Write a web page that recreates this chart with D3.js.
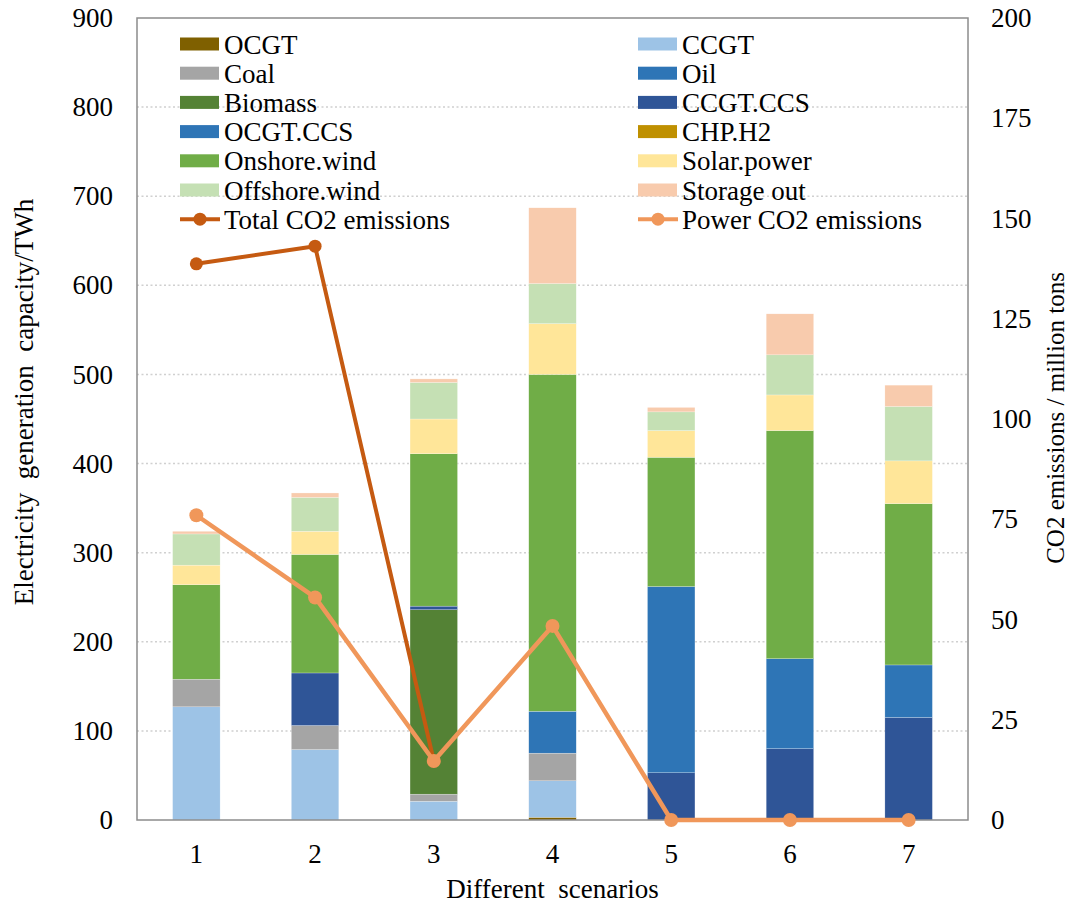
<!DOCTYPE html>
<html>
<head>
<meta charset="utf-8">
<script src="https://cdn.jsdelivr.net/npm/d3@7"></script>
<style>
  html, body { margin: 0; padding: 0; background: #fff; }
</style>
</head>
<body>
<svg id="chart" width="1074" height="906"></svg>
<script>
// Scenarios on the x axis
const scenarios = ["1", "2", "3", "4", "5", "6", "7"];

// Generation technologies, in stacking order (bottom to top)
const techs = ["OCGT", "CCGT", "Coal", "Oil", "Biomass", "CCGT.CCS", "OCGT.CCS",
               "CHP.H2", "Onshore.wind", "Solar.power", "Offshore.wind", "Storage out"];
const techColors = ["#7F6000", "#9DC3E6", "#A5A5A5", "#2E75B6", "#548235", "#2F5597",
                    "#2E75B6", "#BF9000", "#70AD47", "#FFE699", "#C5E0B4", "#F8CBAD"];

// Electricity generation per technology (TWh), one value per scenario
const OCGT        = [0,   0,   0,   3,   0,   0,   0];
const CCGT        = [127, 79,  21,  41,  0,   0,   0];
const Coal        = [31,  27,  8,   31,  0,   0,   0];
const Oil         = [0,   0,   0,   47,  0,   0,   0];
const Biomass     = [0,   0,   207, 0,   0,   0,   0];
const CCGT_CCS    = [0,   59,  4,   0,   53,  80,  115];
const OCGT_CCS    = [0,   0,   0,   0,   209, 101, 59];
const CHP_H2      = [0,   0,   0,   0,   0,   0,   0];
const Onshore     = [106, 133, 171, 378, 145, 256, 181];
const Solar       = [22,  26,  39,  57,  30,  40,  48];
const Offshore    = [35,  38,  41,  45,  21,  45,  61];
const StorageOut  = [3,   5,   4,   85,  5,   46,  24];

// CO2 emissions (million tons)
const totalCO2 = [138.7, 143.1, 14.7, null, null, null, null];
const powerCO2 = [76, 55.5, 14.7, 48.4, 0, 0, 0];

// Axis ticks
const leftTicks = [0, 100, 200, 300, 400, 500, 600, 700, 800, 900];
const rightTicks = [0, 25, 50, 75, 100, 125, 150, 175, 200];

const seriesValues = [OCGT, CCGT, Coal, Oil, Biomass, CCGT_CCS, OCGT_CCS,
                      CHP_H2, Onshore, Solar, Offshore, StorageOut];

// Rows for d3.stack
const rows = scenarios.map((s, i) => {
  const r = { scenario: s };
  techs.forEach((t, k) => { r[t] = seriesValues[k][i]; });
  return r;
});

const SERIF = "'Liberation Serif', Tinos, 'Times New Roman', 'DejaVu Serif', serif";
const FONT = 27;

const svg = d3.select("#chart");
const plot = { left: 137, right: 968, top: 18, bottom: 820 };

const x = d3.scaleBand().domain(scenarios)
  .range([plot.left, plot.right]).paddingInner(0.6).paddingOuter(0.3);
const y = d3.scaleLinear().domain([0, 900]).range([plot.bottom, plot.top]);
const y2 = d3.scaleLinear().domain([0, 200]).range([plot.bottom, plot.top]);
const color = d3.scaleOrdinal().domain(techs).range(techColors);

// Dotted horizontal gridlines
svg.append("g")
  .selectAll("line")
  .data(leftTicks.filter(d => d > 0 && d < 900))
  .join("line")
  .attr("x1", plot.left).attr("x2", plot.right)
  .attr("y1", d => y(d)).attr("y2", d => y(d))
  .attr("stroke", "#D0D0D0").attr("stroke-width", 1.5)
  .attr("stroke-dasharray", "2,2.5");

// Stacked bars
const stacked = d3.stack().keys(techs)(rows);
svg.append("g")
  .selectAll("g")
  .data(stacked)
  .join("g")
  .attr("fill", d => color(d.key))
  .selectAll("rect")
  .data(d => d.filter(p => p[1] - p[0] > 0))
  .join("rect")
  .attr("x", d => x(d.data.scenario))
  .attr("width", x.bandwidth())
  .attr("y", d => y(d[1]))
  .attr("height", d => y(d[0]) - y(d[1]))
  .attr("stroke", "#ffffff").attr("stroke-width", 0.4).attr("stroke-opacity", 0.6);

// Plot frame
svg.append("rect")
  .attr("x", plot.left).attr("y", plot.top)
  .attr("width", plot.right - plot.left).attr("height", plot.bottom - plot.top)
  .attr("fill", "none").attr("stroke", "#8C8C8C").attr("stroke-width", 1.5);

// Axes (labels only, no tick marks or domain lines)
const leftAxis = svg.append("g")
  .attr("transform", `translate(${plot.left},0)`)
  .call(d3.axisLeft(y).tickValues(leftTicks).tickSize(0).tickPadding(24));
const rightAxis = svg.append("g")
  .attr("transform", `translate(${plot.right},0)`)
  .call(d3.axisRight(y2).tickValues(rightTicks).tickSize(0).tickPadding(23));
const bottomAxis = svg.append("g")
  .attr("transform", `translate(0,${plot.bottom})`)
  .call(d3.axisBottom(x).tickSize(0).tickPadding(24));
[leftAxis, rightAxis, bottomAxis].forEach(g => {
  g.attr("font-family", null).attr("font-size", null);
  g.select(".domain").remove();
  g.selectAll("text")
    .style("font-family", SERIF)
    .style("font-size", FONT + "px").attr("fill", "#000");
});

// CO2 lines
const cx = d => x(d) + x.bandwidth() / 2;
function drawLine(values, stroke, width, r) {
  const pts = values.map((v, i) => ({ s: scenarios[i], v })).filter(p => p.v !== null);
  svg.append("path")
    .datum(pts)
    .attr("fill", "none").attr("stroke", stroke).attr("stroke-width", width)
    .attr("stroke-linejoin", "round")
    .attr("d", d3.line().x(p => cx(p.s)).y(p => y2(p.v)));
  svg.append("g").selectAll("circle").data(pts).join("circle")
    .attr("cx", p => cx(p.s)).attr("cy", p => y2(p.v)).attr("r", r)
    .attr("fill", stroke);
}
drawLine(totalCO2, "#C55A11", 4, 6.5);
drawLine(powerCO2, "#F0975A", 4.5, 7);

// Axis titles
function title(sel, size) {
  return sel.style("font-family", SERIF).style("font-size", size + "px")
    .style("white-space", "pre").attr("fill", "#000").attr("text-anchor", "middle");
}
title(svg.append("text"), FONT)
  .attr("transform", "translate(33,402) rotate(-90)")
  .text("Electricity  generation  capacity/TWh");
title(svg.append("text"), 25)
  .attr("transform", "translate(1064,418) rotate(-90)")
  .text("CO2 emissions / million tons");
title(svg.append("text"), FONT)
  .attr("x", (plot.left + plot.right) / 2).attr("y", 898)
  .text("Different  scenarios");

// Legend: two columns, technologies row by row, then the two CO2 lines
const legendCols = [180, 638];
const legendRow0 = 44, legendStep = 29.2;
const legendItems = techs.map((t, i) => ({ name: t, color: techColors[i], kind: "box" }))
  .concat([{ name: "Total CO2 emissions", color: "#C55A11", kind: "line" },
           { name: "Power CO2 emissions", color: "#F0975A", kind: "line" }]);
const lg = svg.append("g").selectAll("g").data(legendItems).join("g")
  .attr("transform", (d, i) =>
    `translate(${legendCols[i % 2]},${legendRow0 + Math.floor(i / 2) * legendStep})`);
lg.filter(d => d.kind === "box").append("rect")
  .attr("x", 0).attr("y", -6.5).attr("width", 39).attr("height", 13)
  .attr("fill", d => d.color);
lg.filter(d => d.kind === "line").append("line")
  .attr("x1", 0).attr("x2", 40).attr("y1", 0).attr("y2", 0)
  .attr("stroke", d => d.color).attr("stroke-width", 4);
lg.filter(d => d.kind === "line").append("circle")
  .attr("cx", 20).attr("cy", 0).attr("r", 6.5).attr("fill", d => d.color);
lg.append("text")
  .attr("x", 44).attr("y", 9.5)
  .style("font-family", SERIF).style("font-size", FONT + "px").attr("fill", "#000")
  .text(d => d.name);
</script>
</body>
</html>
